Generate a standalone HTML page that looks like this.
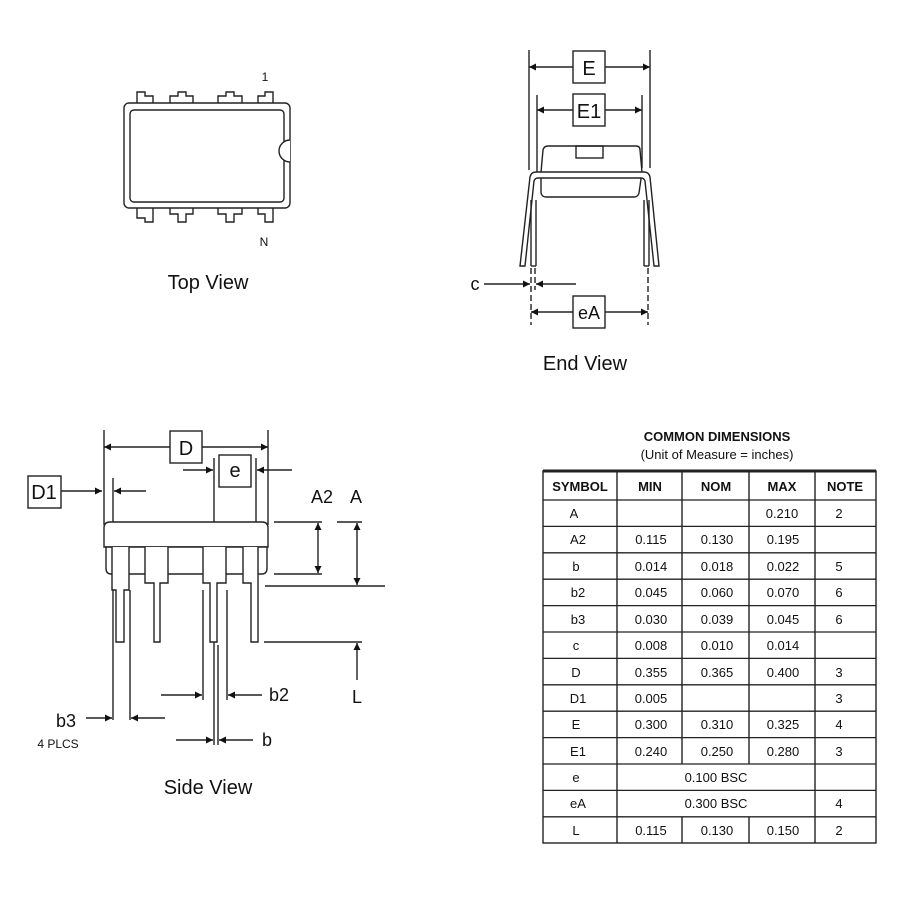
<!DOCTYPE html>
<html><head><meta charset="utf-8"><style>
html,body{margin:0;padding:0;background:#fff;}
svg{display:block;font-family:"Liberation Sans",sans-serif;}
</style></head><body>
<svg width="900" height="900" viewBox="0 0 900 900" xmlns="http://www.w3.org/2000/svg">
<defs>
<marker id="ar" viewBox="0 0 10 10" refX="10" refY="5" markerWidth="14" markerHeight="7" orient="auto-start-reverse" markerUnits="userSpaceOnUse"><path d="M0,0 L10,5 L0,10 z" fill="#111"/></marker>
</defs>
<g stroke="#222" stroke-width="1.4" fill="none">
<!-- TOP VIEW -->
<rect x="124" y="103" width="166" height="105" rx="5" fill="#fff"/>
<rect x="130" y="110" width="154" height="92" rx="4"/>
<path d="M290,140 A11,11 0 0 0 290,162" fill="#fff"/>
<path d="M137,103 V92 H145 V96 H153 V103"/>
<path d="M170,103 V96 H178 V92 H186 V96 H193 V103"/>
<path d="M218,103 V96 H226 V92 H234 V96 H242 V103"/>
<path d="M258,103 V96 H265 V92 H273 V103"/>
<path d="M137,208 V218 H145 V222 H153 V214 V208"/>
<path d="M170,208 V214 H178 V222 H186 V214 H193 V208"/>
<path d="M218,208 V214 H226 V222 H234 V214 H242 V208"/>
<path d="M258,208 V214 H265 V222 H273 V208"/>

<!-- END VIEW -->
<line x1="529" y1="50" x2="529" y2="170"/>
<line x1="650" y1="50" x2="650" y2="168"/>
<line x1="529" y1="67" x2="573" y2="67" marker-start="url(#ar)"/>
<line x1="605" y1="67" x2="650" y2="67" marker-end="url(#ar)"/>
<rect x="573" y="51" width="32" height="32"/>
<line x1="537" y1="95" x2="537" y2="172"/>
<line x1="642" y1="95" x2="642" y2="168"/>
<line x1="537" y1="110" x2="573" y2="110" marker-start="url(#ar)"/>
<line x1="605" y1="110" x2="642" y2="110" marker-end="url(#ar)"/>
<rect x="573" y="94" width="32" height="32"/>
<path d="M541,172 L543,150 Q544,146 548,146 H636 Q640,146 640,150 L642,172 L639,193 Q638,197 634,197 H546 Q542,197 541,193 Z" fill="#fff"/>
<rect x="576" y="146" width="27" height="12"/>
<path d="M520,266 L530,177 Q531,172 536,172 H644 Q649,172 650,177 L659,266 L654,266 L645,181 Q644,178 641,178 H538 Q535,178 534,181 L525,266 Z" fill="#fff"/>
<line x1="531" y1="200" x2="531" y2="266"/>
<line x1="536" y1="200" x2="536" y2="266"/>
<line x1="644" y1="200" x2="644" y2="266"/>
<line x1="649" y1="200" x2="649" y2="266"/>
<line x1="531" y1="266" x2="536" y2="266"/>
<line x1="644" y1="266" x2="649" y2="266"/>
<line x1="531" y1="268" x2="531" y2="325" stroke-dasharray="6,3"/>
<line x1="535" y1="268" x2="535" y2="290" stroke-dasharray="6,3"/>
<line x1="648" y1="268" x2="648" y2="325" stroke-dasharray="6,3"/>
<line x1="484" y1="284" x2="530" y2="284" marker-end="url(#ar)"/>
<line x1="576" y1="284" x2="536" y2="284" marker-end="url(#ar)"/>
<line x1="531" y1="312" x2="573" y2="312" marker-start="url(#ar)"/>
<line x1="605" y1="312" x2="648" y2="312" marker-end="url(#ar)"/>
<rect x="573" y="296" width="32" height="32"/>

<!-- SIDE VIEW -->
<line x1="104" y1="430" x2="104" y2="525"/>
<line x1="268" y1="430" x2="268" y2="525"/>
<line x1="104" y1="447" x2="170" y2="447" marker-start="url(#ar)"/>
<line x1="202" y1="447" x2="268" y2="447" marker-end="url(#ar)"/>
<rect x="170" y="431" width="32" height="32"/>
<rect x="219" y="455" width="32" height="32"/>
<line x1="183" y1="470" x2="213" y2="470" marker-end="url(#ar)"/>
<line x1="292" y1="470" x2="257" y2="470" marker-end="url(#ar)"/>
<line x1="214" y1="458" x2="214" y2="745"/>
<line x1="256" y1="458" x2="256" y2="640"/>
<rect x="28" y="476" width="33" height="32"/>
<line x1="61" y1="491" x2="102" y2="491" marker-end="url(#ar)"/>
<line x1="146" y1="491" x2="114" y2="491" marker-end="url(#ar)"/>
<line x1="113" y1="478" x2="113" y2="540"/>
<path d="M104,547 V528 Q104,522 110,522 H262 Q268,522 268,528 V547 Z" fill="#fff"/>
<path d="M106,547 H267 V568 Q267,574 262,574 H111 Q106,574 106,568 Z" fill="#fff"/>
<path d="M112,547 V590 H116 V642 H124 V590 H129 V547" fill="#fff"/>
<path d="M145,547 V583 H154 V642 H160 V583 H168 V547" fill="#fff"/>
<path d="M203,547 V583 H210 V642 H217 V583 H226 V547" fill="#fff"/>
<path d="M243,547 V583 H251 V642 H258 V583 V547" fill="#fff"/>
<line x1="113" y1="590" x2="113" y2="720"/>
<line x1="130" y1="590" x2="130" y2="720"/>
<line x1="203" y1="590" x2="203" y2="700"/>
<line x1="227" y1="590" x2="227" y2="700"/>
<line x1="218" y1="645" x2="218" y2="745"/>
<line x1="274" y1="522" x2="322" y2="522"/>
<line x1="274" y1="574" x2="322" y2="574"/>
<line x1="265" y1="586" x2="385" y2="586"/>
<line x1="318" y1="523" x2="318" y2="573" marker-start="url(#ar)" marker-end="url(#ar)"/>
<line x1="337" y1="522" x2="362" y2="522"/>
<line x1="357" y1="523" x2="357" y2="585" marker-start="url(#ar)" marker-end="url(#ar)"/>
<line x1="264" y1="642" x2="362" y2="642"/>
<line x1="357" y1="680" x2="357" y2="643" marker-end="url(#ar)"/>
<line x1="161" y1="695" x2="202" y2="695" marker-end="url(#ar)"/>
<line x1="262" y1="695" x2="228" y2="695" marker-end="url(#ar)"/>
<line x1="86" y1="718" x2="112" y2="718" marker-end="url(#ar)"/>
<line x1="165" y1="718" x2="131" y2="718" marker-end="url(#ar)"/>
<line x1="176" y1="740" x2="213" y2="740" marker-end="url(#ar)"/>
<line x1="253" y1="740" x2="219" y2="740" marker-end="url(#ar)"/>

<!-- TABLE -->
<line x1="543" y1="471" x2="876" y2="471" stroke-width="3"/>
<rect x="543" y="471" width="333" height="372"/>
<line x1="617" y1="471" x2="617" y2="843"/>
<line x1="682" y1="471" x2="682" y2="764"/>
<line x1="749" y1="471" x2="749" y2="764"/>
<line x1="682" y1="817" x2="682" y2="843"/>
<line x1="749" y1="817" x2="749" y2="843"/>
<line x1="815" y1="471" x2="815" y2="843"/>
</g>
<g stroke="#222" stroke-width="1.3">
<line x1="543" y1="500" x2="876" y2="500"/>
<line x1="543" y1="526.4" x2="876" y2="526.4"/>
<line x1="543" y1="552.8" x2="876" y2="552.8"/>
<line x1="543" y1="579.2" x2="876" y2="579.2"/>
<line x1="543" y1="605.6" x2="876" y2="605.6"/>
<line x1="543" y1="632" x2="876" y2="632"/>
<line x1="543" y1="658.4" x2="876" y2="658.4"/>
<line x1="543" y1="684.8" x2="876" y2="684.8"/>
<line x1="543" y1="711.2" x2="876" y2="711.2"/>
<line x1="543" y1="737.6" x2="876" y2="737.6"/>
<line x1="543" y1="764" x2="876" y2="764"/>
<line x1="543" y1="790.4" x2="876" y2="790.4"/>
<line x1="543" y1="816.8" x2="876" y2="816.8"/>
</g>
<g fill="#111" font-size="14" text-anchor="middle">
<text x="265" y="81" font-size="12">1</text>
<text x="264" y="246" font-size="12">N</text>
<text x="208" y="289" font-size="20">Top View</text>
<text x="585" y="370" font-size="20">End View</text>
<text x="208" y="794" font-size="20">Side View</text>
<text x="589" y="75" font-size="20">E</text>
<text x="589" y="118" font-size="20">E1</text>
<text x="589" y="319" font-size="18">eA</text>
<text x="475" y="290" font-size="18">c</text>
<text x="186" y="455" font-size="20">D</text>
<text x="235" y="477" font-size="20">e</text>
<text x="44" y="499" font-size="20">D1</text>
<text x="322" y="503" font-size="18">A2</text>
<text x="356" y="503" font-size="18">A</text>
<text x="357" y="703" font-size="18">L</text>
<text x="279" y="701" font-size="18">b2</text>
<text x="66" y="727" font-size="18">b3</text>
<text x="58" y="748" font-size="12">4 PLCS</text>
<text x="267" y="746" font-size="18">b</text>
<text x="717" y="441" font-size="13" font-weight="bold">COMMON DIMENSIONS</text>
<text x="717" y="459" font-size="13">(Unit of Measure = inches)</text>
<g font-size="13" font-weight="bold">
<text x="580" y="491">SYMBOL</text><text x="650" y="491">MIN</text><text x="716" y="491">NOM</text><text x="782" y="491">MAX</text><text x="845" y="491">NOTE</text>
</g>
<g font-size="13">
<text x="574" y="518">A</text><text x="782" y="518">0.210</text><text x="839" y="518">2</text>
<text x="578" y="544">A2</text><text x="651" y="544">0.115</text><text x="717" y="544">0.130</text><text x="783" y="544">0.195</text>
<text x="576" y="571">b</text><text x="651" y="571">0.014</text><text x="717" y="571">0.018</text><text x="783" y="571">0.022</text><text x="839" y="571">5</text>
<text x="578" y="597">b2</text><text x="651" y="597">0.045</text><text x="717" y="597">0.060</text><text x="783" y="597">0.070</text><text x="839" y="597">6</text>
<text x="578" y="624">b3</text><text x="651" y="624">0.030</text><text x="717" y="624">0.039</text><text x="783" y="624">0.045</text><text x="839" y="624">6</text>
<text x="576" y="650">c</text><text x="651" y="650">0.008</text><text x="717" y="650">0.010</text><text x="783" y="650">0.014</text>
<text x="576" y="677">D</text><text x="651" y="677">0.355</text><text x="717" y="677">0.365</text><text x="783" y="677">0.400</text><text x="839" y="677">3</text>
<text x="578" y="703">D1</text><text x="651" y="703">0.005</text><text x="839" y="703">3</text>
<text x="576" y="729">E</text><text x="651" y="729">0.300</text><text x="717" y="729">0.310</text><text x="783" y="729">0.325</text><text x="839" y="729">4</text>
<text x="578" y="756">E1</text><text x="651" y="756">0.240</text><text x="717" y="756">0.250</text><text x="783" y="756">0.280</text><text x="839" y="756">3</text>
<text x="576" y="782">e</text><text x="716" y="782">0.100 BSC</text>
<text x="578" y="808">eA</text><text x="716" y="808">0.300 BSC</text><text x="839" y="808">4</text>
<text x="576" y="835">L</text><text x="651" y="835">0.115</text><text x="717" y="835">0.130</text><text x="783" y="835">0.150</text><text x="839" y="835">2</text>
</g>
</g>
</svg>
</body></html>
